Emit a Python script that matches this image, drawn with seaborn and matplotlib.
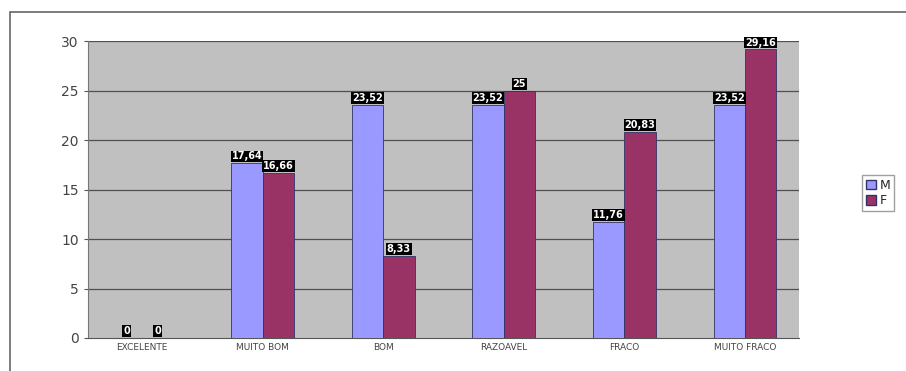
import matplotlib
matplotlib.use("Agg")
import matplotlib.pyplot as plt
import seaborn as sns
import pandas as pd
from matplotlib.patches import Rectangle, Patch

categories = ["EXCELENTE", "MUITO BOM", "BOM", "RAZOAVEL", "FRACO", "MUITO FRACO"]
m_values = [0, 17.64, 23.52, 23.52, 11.76, 23.52]
f_values = [0, 16.66, 8.33, 25, 20.83, 29.16]
m_labels = ["0", "17,64", "23,52", "23,52", "11,76", "23,52"]
f_labels = ["0", "16,66", "8,33", "25", "20,83", "29,16"]
series = ["M", "F"]
y_ticks = [0, 5, 10, 15, 20, 25, 30]

df = pd.DataFrame({
    "cat": categories * 2,
    "val": m_values + f_values,
    "serie": ["M"] * len(categories) + ["F"] * len(categories),
})

sns.set_style("white")
fig = plt.figure(figsize=(9.06, 3.71), dpi=100)
ax = fig.add_axes([0.097, 0.089, 0.785, 0.80])

palette = {"M": "#9999ff", "F": "#993366"}
sns.barplot(data=df, x="cat", y="val", hue="serie", order=categories,
            hue_order=series, palette=palette, width=0.52, ax=ax,
            saturation=1, edgecolor="#333366", linewidth=0.6, legend=False,
            zorder=3)

ax.set_facecolor("#c0c0c0")
ax.set_ylim(0, 30)
ax.set_xlim(-0.45, len(categories) - 0.55)
ax.set_yticks(y_ticks)
ax.set_yticklabels([str(t) for t in y_ticks], fontsize=10, color="#444444")
ax.set_xlabel("")
ax.set_ylabel("")
for t in y_ticks[1:]:
    ax.axhline(t, color="#505050", linewidth=0.9, zorder=1)
ax.tick_params(axis="x", labelsize=6.5, colors="#444444", length=0)
ax.tick_params(axis="y", length=3, left=True, color="#555555")
for s in ["top", "right"]:
    ax.spines[s].set_visible(False)
ax.spines["left"].set_color("#777777")
ax.spines["bottom"].set_color("#555555")

# data labels
for cont, labels in zip(ax.containers, [m_labels, f_labels]):
    for bar, lab in zip(cont, labels):
        x = bar.get_x() + bar.get_width() / 2
        y = bar.get_height()
        ax.text(x, y + 0.2, lab, ha="center", va="bottom", fontsize=7,
                fontweight="bold", color="white", clip_on=False, zorder=5,
                bbox=dict(boxstyle="square,pad=0.1", facecolor="black",
                          edgecolor="none"))

# legend
handles = [Patch(facecolor=palette[s], edgecolor="#333366", label=s) for s in series]
fig.legend(handles=handles, loc="upper left", bbox_to_anchor=(0.945, 0.545),
           frameon=True, fontsize=9, handlelength=0.8, handleheight=0.8,
           handletextpad=0.3, borderpad=0.3, labelspacing=0.2,
           edgecolor="#888888", fancybox=False)

# outer chart border
fig.patches.append(Rectangle((0.011, -0.01), 1.0, 0.978, transform=fig.transFigure,
                             fill=False, edgecolor="#666666", linewidth=1.2))

fig.savefig("out.png", dpi=100, facecolor="white")
